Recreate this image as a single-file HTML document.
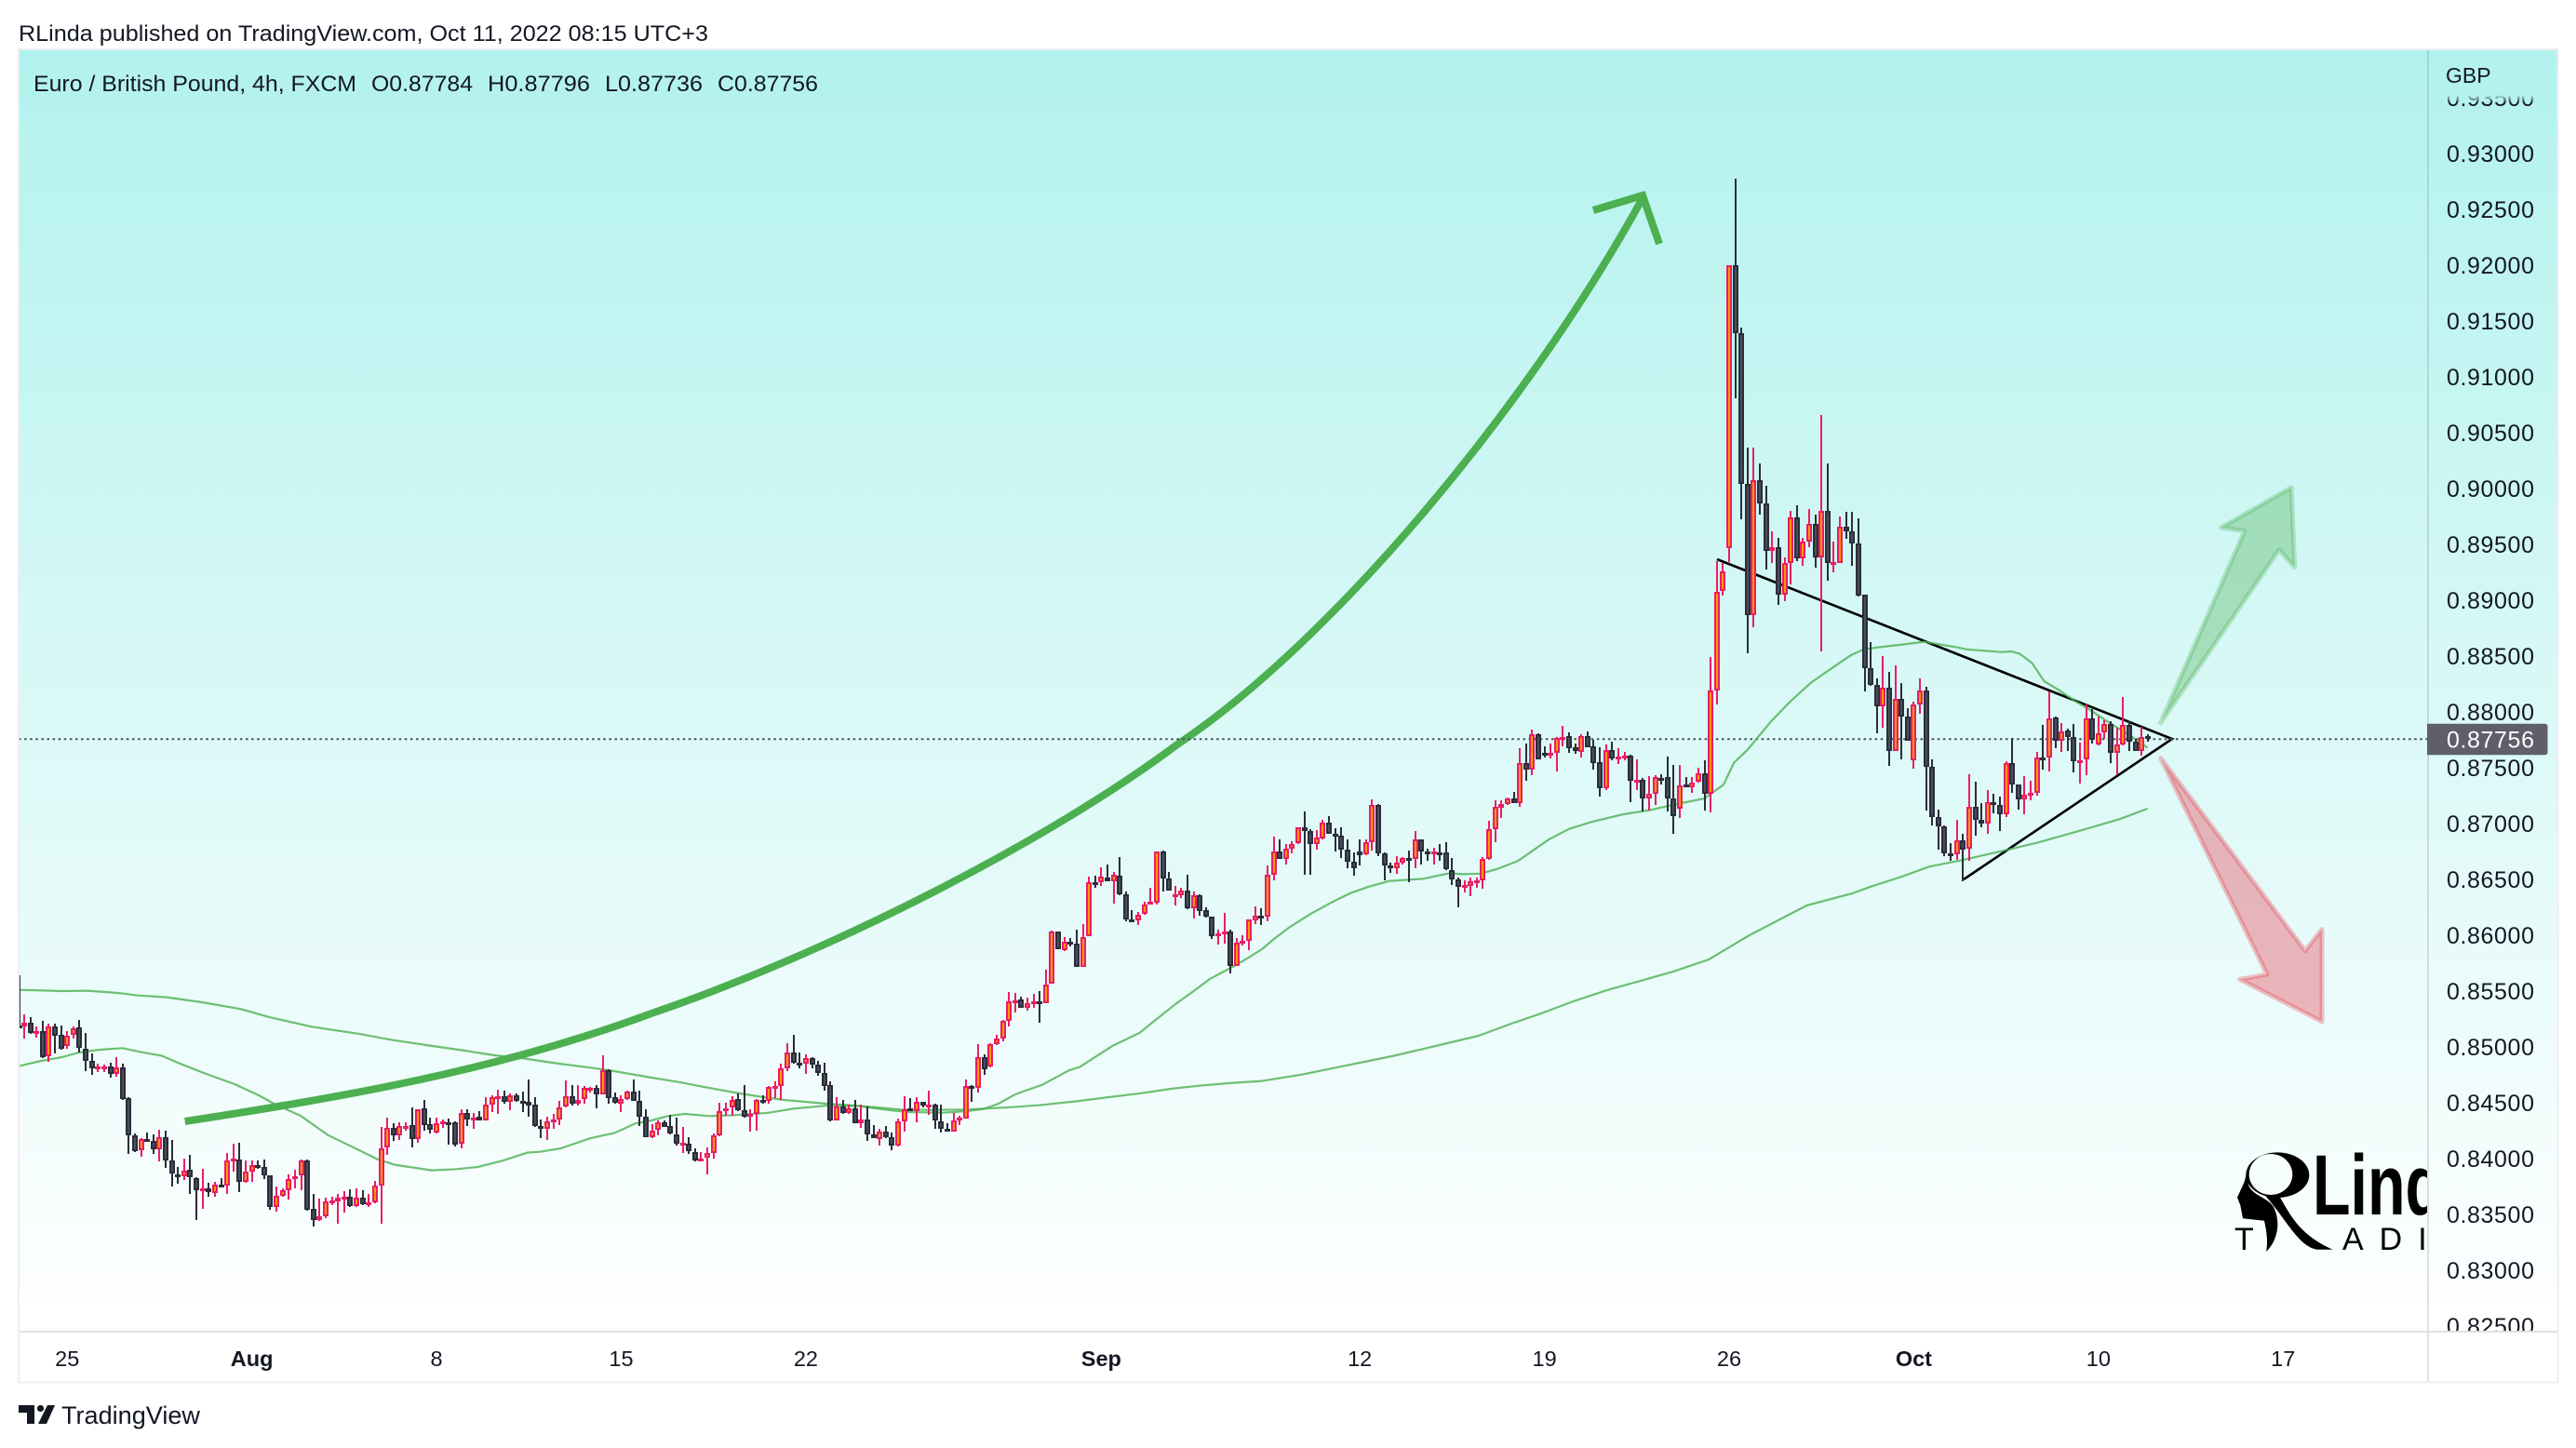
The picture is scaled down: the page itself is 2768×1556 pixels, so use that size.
<!DOCTYPE html>
<html lang="en">
<head>
<meta charset="utf-8">
<title>Euro / British Pound, 4h, FXCM</title>
<style>
html,body{margin:0;padding:0;background:#fff;width:2768px;height:1556px;overflow:hidden}
svg{display:block}
text{font-family:"Liberation Sans",sans-serif;fill:#131722}
</style>
</head>
<body>
<svg id="chart" xmlns="http://www.w3.org/2000/svg" width="2768" height="1556" viewBox="0 0 2768 1556">
<defs>
<linearGradient id="bgGrad" x1="0" y1="0" x2="0" y2="1">
<stop offset="0" stop-color="#b2f2ee"/>
<stop offset="1" stop-color="#ffffff"/>
</linearGradient>
<linearGradient id="axisFade" x1="0" y1="0" x2="0" y2="1">
<stop offset="0" stop-color="#b4f2ee" stop-opacity="1"/>
<stop offset="1" stop-color="#b4f2ee" stop-opacity="0"/>
</linearGradient>
<clipPath id="plotClip"><rect x="20" y="53" width="2588" height="1378"/></clipPath>
<clipPath id="axisClip"><rect x="2610" y="102" width="138" height="1328"/></clipPath>
</defs>
<rect x="0" y="0" width="2768" height="1556" fill="#ffffff"/>
<text x="20" y="44" font-size="24.5" textLength="741" lengthAdjust="spacingAndGlyphs">RLinda published on TradingView.com, Oct 11, 2022 08:15 UTC+3</text>
<rect x="20" y="53" width="2729" height="1378" fill="url(#bgGrad)"/>

<g id="plot" clip-path="url(#plotClip)">
<g>
<title>RLinda Trading</title>
<path fill-rule="evenodd" d="M2413.3,1262.7 a34,24.3 0 1,0 68,0 a34,24.3 0 1,0 -68,0 Z M2416.7,1262 a23.3,22 0 1,0 46.6,0 a23.3,22 0 1,0 -46.6,0 Z" fill="#000"/>
<path d="M2433.3,1284 L2450,1286.7 C2460,1303.3 2470,1326.7 2506.7,1342.7 L2490,1342.7 C2470,1340 2456.7,1310 2433.3,1284 Z" fill="#000"/>
<path d="M2411.7,1270 L2404,1286.7 L2407.3,1295 L2410,1309.3 L2433,1311.7 C2436,1325 2437,1335 2435,1345 C2446,1335 2452,1315 2443,1297 C2436,1286 2420,1285 2416,1273 C2415,1265 2415,1255 2418,1245 Z" fill="#000"/>
<text x="2485" y="1305" style="font-weight:700;fill:#000" font-size="92" textLength="177" lengthAdjust="spacingAndGlyphs">Linda</text>
<text x="2401" y="1343" style="fill:#000" font-size="34">T</text>
<text x="2517" y="1343" style="fill:#000" font-size="34" letter-spacing="17">ADING</text>
</g>
<path d="M198.7,1205 C367,1179 533,1151 700,1089 C888,1025 1125,905 1265,800 C1430,690 1640,440 1765,213" fill="none" stroke="#4caf50" stroke-width="8"/>
<path d="M1712,226 L1765,210 L1783,262" fill="none" stroke="#4caf50" stroke-width="8"/>
<polygon points="2321.7,776.7 2412,570.5 2386.7,567 2462,524 2465.7,609.6 2449,590.7" fill="rgba(76,175,80,0.35)" stroke="rgba(76,175,80,0.3)" stroke-width="5" stroke-linejoin="round"/>
<polygon points="2321.7,814.6 2477,1021.7 2495,998.5 2495,1097.8 2406.7,1052.4 2436,1047" fill="rgba(230,60,75,0.37)" stroke="rgba(230,60,75,0.3)" stroke-width="5" stroke-linejoin="round"/>
<polyline points="1845,601 2334,794 2110,945" fill="none" stroke="#000" stroke-width="2.6"/>
<g id="priceLine"></g>
<g id="maLines"></g>
<g id="candles"></g>
</g>

<rect x="20" y="1431" width="2729" height="55" fill="#ffffff"/>
<line x1="2609" y1="53" x2="2609" y2="1431" stroke="rgba(42,46,57,0.14)" stroke-width="2"/>
<line x1="2609" y1="1431" x2="2609" y2="1486" stroke="#e1e1e4" stroke-width="2"/>
<line x1="20" y1="1431" x2="2749" y2="1431" stroke="#e1e1e4" stroke-width="2"/>
<rect x="20" y="53" width="2728.5" height="1432.5" fill="none" stroke="#eeeef3" stroke-width="2"/>

<g id="priceAxis" clip-path="url(#axisClip)"></g>
<rect x="2611" y="102" width="136" height="9" fill="url(#axisFade)"/>
<text x="2628" y="89" font-size="23">GBP</text>
<g id="lastPriceLabel"></g>
<g id="timeAxis"></g>

<g>
<text x="36" y="98" font-size="24.5" textLength="347" lengthAdjust="spacingAndGlyphs">Euro / British Pound, 4h, FXCM</text>
<text x="399" y="98" font-size="24.5" textLength="109" lengthAdjust="spacingAndGlyphs">O0.87784</text>
<text x="524" y="98" font-size="24.5" textLength="110" lengthAdjust="spacingAndGlyphs">H0.87796</text>
<text x="650" y="98" font-size="24.5" textLength="105" lengthAdjust="spacingAndGlyphs">L0.87736</text>
<text x="771" y="98" font-size="24.5" textLength="108" lengthAdjust="spacingAndGlyphs">C0.87756</text>
</g>

<g>
<path d="M20,1510 H37 V1530 H29 V1518 H20 Z M51,1510 H59 L50,1530 H41 Z" fill="#131722"/>
<circle cx="43.5" cy="1513.5" r="3.6" fill="#131722"/>
<text x="66" y="1530" font-size="27" textLength="149" lengthAdjust="spacingAndGlyphs">TradingView</text>
</g>
</svg>

<script>
// Prices are stored in FX points (1 point = 0.00001 GBP).
const POINTS_PER_UNIT = 100000;

const opens = [
85195,85181,85214,85123,85139,84917,85181,85106,85009,85106,
85173,84986,84873,84809,84820,84823,84756,84814,84539,84206,
84075,84175,84161,84081,84189,83981,83861,83839,83898,83828,
83717,83731,83695,83764,83759,83989,83995,83789,83881,83945,
83922,83847,83564,83667,83714,83820,83847,83986,83548,83453,
83481,83611,83620,83647,83656,83575,83647,83589,83606,83761,
84097,84273,84211,84289,84297,84172,84448,84306,84236,84317,
84328,84325,84131,84411,84347,84373,84345,84486,84548,84561,
84506,84570,84514,84506,84481,84289,84264,84336,84347,84464,
84561,84495,84534,84628,84631,84578,84789,84548,84492,84536,
84598,84520,84373,84195,84256,84322,84289,84220,84136,84136,
84061,83989,84006,84047,84206,84422,84456,84531,84431,84381,
84397,84522,84517,84648,84648,84806,84948,84859,84853,84897,
84839,84764,84656,84339,84464,84406,84448,84320,84347,84214,
84178,84239,84195,84120,84331,84448,84428,84506,84484,84486,
84336,84264,84245,84347,84361,84648,84631,84906,84822,85023,
85078,85236,85414,85423,85353,85397,85411,85395,85564,86030,
85866,85939,85922,85719,85989,86477,86472,86519,86486,86536,
86364,86144,86136,86189,86280,86291,86750,86505,86355,86358,
86397,86241,86355,86222,86164,86000,86014,86030,85727,85930,
85947,86136,86172,86164,86539,86752,86680,86772,86822,86964,
86930,86814,86869,87005,86911,86889,86769,86655,86747,86722,
86830,87164,86730,86625,86602,86650,86689,86680,86855,86747,
86727,86744,86744,86586,86497,86427,86444,86480,86488,86680,
86947,87144,87172,87222,87181,87542,87486,87800,87631,87614,
87631,87764,87783,87681,87644,87783,87692,87547,87319,87658,
87583,87594,87606,87386,87392,87228,87264,87409,87416,87222,
87137,87348,87325,87375,87447,87264,88189,89081,89464,91996,
91392,90045,88867,90072,89869,89441,89471,89046,89330,89739,
89372,89521,89682,89387,89804,89333,89337,89662,89613,89506,
89046,88389,88244,88050,88219,87647,88114,87956,87564,88064,
88194,87506,87056,86972,86733,86722,86847,86772,87153,87031,
86997,87194,87164,87081,87539,87347,87214,87256,87278,87592,
87589,87950,87742,87831,87772,87564,87572,87944,87706,87814,
87889,87631,87711,87883,87731,87653,87784
];
const highs = [
85639,85292,85264,85181,85231,85209,85209,85189,85139,85181,
85242,85125,84939,84847,84842,84858,84909,84847,84548,84223,
84181,84234,84217,84259,84250,84167,83925,84000,84034,83834,
83909,83784,83792,83825,84050,84134,84139,83981,83986,83981,
83992,83853,83750,83731,83861,83903,83992,83992,83681,83639,
83647,83661,83681,83709,83722,83731,83714,83686,83797,84284,
84367,84320,84328,84328,84459,84445,84525,84367,84367,84353,
84361,84334,84439,84439,84409,84425,84550,84570,84617,84606,
84584,84584,84597,84709,84548,84347,84372,84403,84520,84697,
84659,84659,84648,84639,84659,84925,84798,84589,84570,84611,
84709,84606,84439,84306,84342,84342,84389,84367,84284,84189,
84089,84059,84097,84223,84500,84500,84556,84584,84659,84439,
84534,84567,84648,84689,84847,85034,85109,84950,84931,84909,
84875,84856,84689,84550,84523,84486,84523,84481,84467,84297,
84264,84292,84236,84356,84558,84542,84550,84509,84609,84492,
84484,84314,84409,84384,84709,84661,85025,84931,85036,85106,
85245,85492,85486,85450,85439,85472,85500,85689,86040,86034,
85980,85972,86047,86097,86522,86533,86605,86633,86564,86700,
86389,86222,86208,86300,86425,86747,86758,86566,86439,86425,
86541,86389,86366,86247,86164,86047,86197,86047,85977,85999,
86144,86258,86241,86625,86883,86855,86814,86839,86964,87108,
86950,86944,87033,87064,86958,86966,86861,86741,86855,86855,
87214,87172,86741,86652,86705,86700,86755,86930,86861,86772,
86780,86816,86830,86689,86514,86491,86519,86519,86702,87022,
87208,87208,87236,87283,87675,87717,87842,87806,87689,87717,
87775,87875,87819,87717,87800,87825,87750,87681,87708,87731,
87675,87642,87617,87575,87408,87425,87430,87443,87597,87522,
87528,87417,87417,87501,87566,88488,89349,89337,91996,92773,
91442,90370,90363,90225,90026,89617,89559,89383,89796,89850,
89559,89815,89766,90657,90225,89529,89750,89793,89793,89735,
89054,88626,88297,88500,88356,88417,88256,88033,88089,88297,
88222,87575,87125,86981,86825,87033,86908,87439,87375,87183,
87300,87264,87242,87556,87764,87347,87425,87383,87642,87883,
88186,87958,87897,87850,87889,87725,88069,88022,87958,87925,
87914,87858,88131,87914,87756,87869,87796
];
const lows = [
85181,85078,85117,85084,84898,84870,84945,84978,84981,85078,
84950,84786,84753,84775,84778,84728,84731,84523,84045,84061,
84020,84147,84042,83978,83917,83753,83778,83811,83686,83453,
83553,83661,83661,83742,83686,83884,83703,83786,83792,83909,
83820,83545,83528,83659,83636,83736,83714,83536,83395,83445,
83470,83584,83417,83520,83567,83570,83586,83570,83603,83420,
84036,84159,84167,84250,84103,84142,84250,84223,84228,84278,
84125,84111,84092,84292,84270,84345,84339,84417,84400,84495,
84436,84506,84417,84375,84286,84186,84167,84264,84297,84459,
84475,84478,84495,84592,84450,84578,84492,84492,84417,84528,
84514,84292,84195,84186,84211,84286,84217,84120,84053,84042,
83978,83986,83861,84000,84203,84384,84381,84425,84370,84242,
84250,84495,84495,84542,84528,84786,84853,84811,84759,84811,
84745,84611,84334,84339,84403,84403,84320,84278,84159,84181,
84120,84186,84078,84111,84242,84428,84328,84459,84395,84270,
84236,84245,84245,84300,84361,84509,84589,84753,84820,85017,
85050,85186,85309,85353,85325,85353,85217,85395,85564,85872,
85861,85897,85714,85719,85989,86427,86444,86486,86286,86361,
86127,86136,86094,86186,86277,86275,86394,86402,86269,86333,
86236,86152,86175,86161,85966,85916,85925,85661,85725,85908,
85869,86102,86091,86125,86494,86680,86636,86736,86819,86541,
86541,86769,86861,86911,86750,86694,86597,86536,86625,86719,
86758,86708,86491,86558,86552,86633,86477,86602,86633,86666,
86633,86666,86583,86452,86252,86383,86352,86425,86416,86677,
86833,87052,87166,87180,87153,87383,87436,87578,87592,87583,
87469,87694,87636,87625,87592,87686,87486,87242,87300,87569,
87536,87569,87194,87300,87108,87119,87169,87348,87111,86908,
87050,87325,87279,87367,87118,87100,88063,89039,89345,90810,
89727,88522,88756,89766,89272,89330,88962,88989,89142,89349,
89310,89471,89291,88545,89177,89253,89337,89552,89310,89031,
88186,88236,87811,87861,87519,87647,87578,87739,87494,87986,
87117,86986,86769,86708,86667,86675,86486,86664,86894,86969,
86911,87092,86936,87061,87278,87125,87083,87208,87253,87486,
87467,87675,87644,87653,87461,87358,87436,87717,87703,87758,
87542,87439,87703,87653,87653,87611,87736
];
const closes = [
85186,85214,85123,85142,84911,85181,85103,84981,85103,85170,
84992,84873,84806,84825,84823,84756,84814,84534,84206,84070,
84178,84161,84081,84189,83981,83864,83839,83895,83834,83717,
83731,83697,83764,83753,83986,83997,83789,83881,83945,83917,
83847,83564,83670,83714,83820,83845,83986,83545,83453,83481,
83614,83625,83647,83656,83575,83647,83589,83606,83761,84095,
84273,84209,84289,84295,84172,84445,84303,84261,84314,84331,
84322,84125,84411,84347,84370,84345,84486,84548,84561,84506,
84570,84514,84506,84478,84289,84264,84336,84347,84461,84561,
84495,84528,84631,84634,84578,84792,84545,84500,84536,84598,
84520,84373,84195,84250,84322,84286,84223,84136,84142,84064,
83986,84003,84047,84206,84422,84453,84528,84431,84375,84397,
84525,84509,84645,84653,84806,84948,84856,84853,84897,84839,
84764,84653,84339,84464,84406,84448,84320,84347,84214,84181,
84239,84195,84120,84331,84442,84428,84506,84478,84486,84339,
84264,84247,84345,84367,84648,84628,84906,84803,85023,85078,
85236,85411,85420,85353,85395,85411,85395,85561,86030,85872,
85939,85922,85719,85986,86472,86466,86522,86486,86539,86364,
86144,86136,86186,86277,86297,86747,86505,86402,86364,86397,
86241,86355,86219,86164,85994,86014,86030,85727,85930,85947,
86139,86172,86164,86539,86752,86680,86772,86819,86964,86930,
86814,86872,87005,86911,86886,86769,86655,86597,86719,86830,
87164,86730,86622,86602,86652,86689,86680,86855,86747,86727,
86747,86739,86589,86497,86430,86450,86480,86491,86680,86947,
87147,87172,87222,87180,87542,87486,87797,87578,87608,87631,
87764,87778,87678,87647,87783,87686,87544,87319,87658,87583,
87597,87606,87386,87394,87228,87264,87417,87397,87222,87069,
87344,87325,87367,87447,87267,88189,89077,89257,91996,91392,
90045,88867,90072,89869,89441,89471,89046,89330,89739,89372,
89521,89682,89387,89804,89333,89345,89662,89613,89506,89043,
88389,88244,88050,88219,87647,88114,87958,87739,88064,88194,
87506,87056,86972,86736,86722,86847,86769,87153,87031,86997,
87194,87164,87081,87539,87347,87214,87256,87278,87589,87586,
87944,87742,87828,87772,87561,87569,87944,87750,87811,87889,
87631,87711,87881,87731,87653,87778,87756
];

// Moving averages at irregular bar positions.
const maSlowBars = [0.3,7.2,11.3,16.7,19.4,24.1,29.5,36.2,41,44.3,47.7,55.1,60.6,67.2,72,77.4,81.4,87.5,95.6,100.3,102.9,107,111.7,116.4,121.1,124.5,131.3,135.3,139.3,143.4,148.8,154.2,156.9,161.6,166.4,172.5,177.2,182.6,187.3,192,197.4,202.1,208.7,223.9,237.3,242.6,247,252.7,258.5,263.6,269.2,274.7,281.3,290.6,298,301,306,310.5,316.1,323.2,328.2,335.3,341.4,346];
const maSlowValues = [85511,85500,85503,85481,85461,85445,85403,85339,85264,85223,85181,85120,85064,85009,84972,84925,84903,84853,84795,84750,84725,84689,84639,84592,84550,84525,84492,84478,84459,84439,84436,84439,84447,84461,84481,84517,84550,84586,84625,84653,84678,84695,84753,84925,85100,85208,85291,85408,85514,85591,85680,85783,86000,86267,86375,86435,86524,86614,86676,86765,86831,86941,87039,87134];
const maFastBars = [0.3,3.8,7.2,9.9,13.3,17,20,23.4,26.1,30.2,35.2,39,41.6,46,50.4,55.1,58.5,61.2,67.2,71.3,74.7,78.7,82.8,84.8,88.2,92.9,97,100.3,102.9,105.6,108.3,112.4,116.4,121.8,125.9,131.3,136.6,142,144.8,150.2,154.2,156.9,159.3,162,166.4,170.8,172.5,177.8,182.2,184.9,188,191,193.7,197.1,200.1,202.1,204.2,206.5,210.1,213.8,216.6,219.5,222.8,228.2,232.5,234.7,237.6,240.5,243.7,248.8,252,255.6,260.8,265,269.2,274,277.1,278.8,281,284.8,287.8,291.4,296.4,298,299.9,303,306.5,309.6,315,316.6,322.2,323.9,325.2,327.2,329.2,331.7,333.8,336.8,339.8,343.3,346];
const maFastValues = [84831,84875,84909,84950,84975,84989,84953,84920,84856,84767,84667,84570,84492,84381,84209,84084,83992,83945,83895,83906,83925,83981,84053,84061,84092,84181,84231,84314,84342,84381,84400,84381,84389,84409,84447,84473,84470,84431,84417,84411,84425,84445,84492,84575,84661,84792,84820,85009,85125,85245,85381,85500,85611,85709,85806,85875,85973,86069,86194,86305,86380,86436,86486,86505,86555,86547,86552,86597,86666,86861,86952,87014,87083,87119,87172,87225,87348,87547,87661,87914,88086,88266,88457,88515,88561,88583,88605,88628,88578,88560,88536,88542,88521,88438,88274,88191,88111,88012,87902,87783,87679];

const priceTicks = [0.935,0.93,0.925,0.92,0.915,0.91,0.905,0.9,0.895,0.89,0.885,0.88,0.875,0.87,0.865,0.86,0.855,0.85,0.845,0.84,0.835,0.83,0.825];
const timeTickLabels = ['25','Aug','8','15','22','Sep','12','19','26','Oct','10','17'];
const timeTickBars = [8,38,68,98,128,176,218,248,278,308,338,368];
const boldTimeLabels = ['Aug','Sep','Oct'];
const lastPrice = 0.87756;

const SVG_NS = 'http://www.w3.org/2000/svg';
const BAR_ORIGIN = 19.3;
const BAR_STEP = 6.614;
const PRICE_REF = 0.93;
const PRICE_REF_Y = 165;
const PIXELS_PER_UNIT = 12000;

function xScale(bar) { return BAR_ORIGIN + BAR_STEP * bar; }
function yScale(price) { return PRICE_REF_Y + (PRICE_REF - price) * PIXELS_PER_UNIT; }
function yPoints(points) { return yScale(points / POINTS_PER_UNIT); }
function make(tag) { return document.createElementNS(SVG_NS, tag); }

function rect(parent, x, y, w, h, fill) {
  const r = make('rect');
  r.setAttribute('x', x);
  r.setAttribute('y', y);
  r.setAttribute('width', w);
  r.setAttribute('height', h);
  r.setAttribute('fill', fill);
  r.setAttribute('shape-rendering', 'crispEdges');
  parent.appendChild(r);
  return r;
}

function drawCandles() {
  const host = document.getElementById('candles');
  for (let i = 0; i < opens.length; i++) {
    const up = closes[i] >= opens[i];
    const edge = up ? '#e91e63' : '#2a2e39';
    const inner = up ? '#ff9800' : '#4a4e5c';
    const cx = Math.round(Math.max(xScale(i), 21));
    const top = Math.round(yPoints(Math.max(opens[i], closes[i])));
    const bottom = Math.round(yPoints(Math.min(opens[i], closes[i])));
    const hi = Math.round(yPoints(highs[i]));
    const lo = Math.round(yPoints(lows[i]));
    const g = make('g');
    
    
    const wick = rect(g, cx - 1, hi, 2, Math.max(lo - hi, 1), edge);
    
    
    const h = Math.max(bottom - top, 3);
    const body = rect(g, cx - 3, top, 6, h, edge);
    
    
    if (h > 4) {
      const fill = rect(g, cx - 1, top + 2, 2, h - 4, inner);
      
      
    }
    host.appendChild(g);
  }
}

function drawMovingAverage(bars, values, name) {
  const pts = bars.map(function (b, i) {
    return xScale(b).toFixed(1) + ',' + yPoints(values[i]).toFixed(1);
  }).join(' ');
  const line = make('polyline');
  
  
  line.setAttribute('points', pts);
  line.setAttribute('fill', 'none');
  line.setAttribute('stroke', '#4caf50');
  line.setAttribute('stroke-opacity', '0.8');
  line.setAttribute('stroke-width', '2.2');
  line.setAttribute('stroke-linejoin', 'round');
  document.getElementById('maLines').appendChild(line);
}

function drawPriceAxis() {
  const host = document.getElementById('priceAxis');
  priceTicks.forEach(function (tick) {
    const t = make('text');
    
    
    t.setAttribute('x', 2629);
    t.setAttribute('y', yScale(tick) + 9);
    t.setAttribute('font-size', '25');
    t.setAttribute('letter-spacing', '0.6');
    t.textContent = tick.toFixed(5);
    host.appendChild(t);
  });
}

function drawLastPrice() {
  const y = yScale(lastPrice);
  const line = make('line');
  
  
  line.setAttribute('x1', 20);
  line.setAttribute('x2', 2608);
  line.setAttribute('y1', y);
  line.setAttribute('y2', y);
  line.setAttribute('stroke', '#4a4e5c');
  line.setAttribute('stroke-width', '2');
  line.setAttribute('stroke-dasharray', '2.5 3.6');
  document.getElementById('priceLine').appendChild(line);

  const host = document.getElementById('lastPriceLabel');
  const box = make('path');
  
  
  const t0 = y - 16.5, t1 = y + 17;
  box.setAttribute('d', 'M2608,' + t0 + ' H2734.5 Q2737.5,' + t0 + ' 2737.5,' + (t0 + 3) + ' V' + (t1 - 3) + ' Q2737.5,' + t1 + ' 2734.5,' + t1 + ' H2608 Z');
  box.setAttribute('fill', '#5e5f6a');
  host.appendChild(box);
  const label = make('text');
  
  
  label.setAttribute('x', 2629);
  label.setAttribute('y', y + 9);
  label.setAttribute('font-size', '25');
  label.setAttribute('letter-spacing', '0.6');
  label.setAttribute('style', 'fill:#ffffff');
  label.textContent = lastPrice.toFixed(5);
  host.appendChild(label);
}

function drawTimeAxis() {
  const host = document.getElementById('timeAxis');
  timeTickLabels.forEach(function (name, i) {
    const t = make('text');
    
    
    t.setAttribute('x', xScale(timeTickBars[i]));
    t.setAttribute('y', 1468);
    t.setAttribute('font-size', '23.5');
    t.setAttribute('text-anchor', 'middle');
    if (boldTimeLabels.indexOf(name) >= 0) { t.setAttribute('font-weight', '700'); }
    t.textContent = name;
    host.appendChild(t);
  });
}

drawLastPrice();
drawMovingAverage(maSlowBars, maSlowValues, 'moving-average-slow');
drawMovingAverage(maFastBars, maFastValues, 'moving-average-fast');
drawCandles();
drawPriceAxis();
drawTimeAxis();
</script>
</body>
</html>
